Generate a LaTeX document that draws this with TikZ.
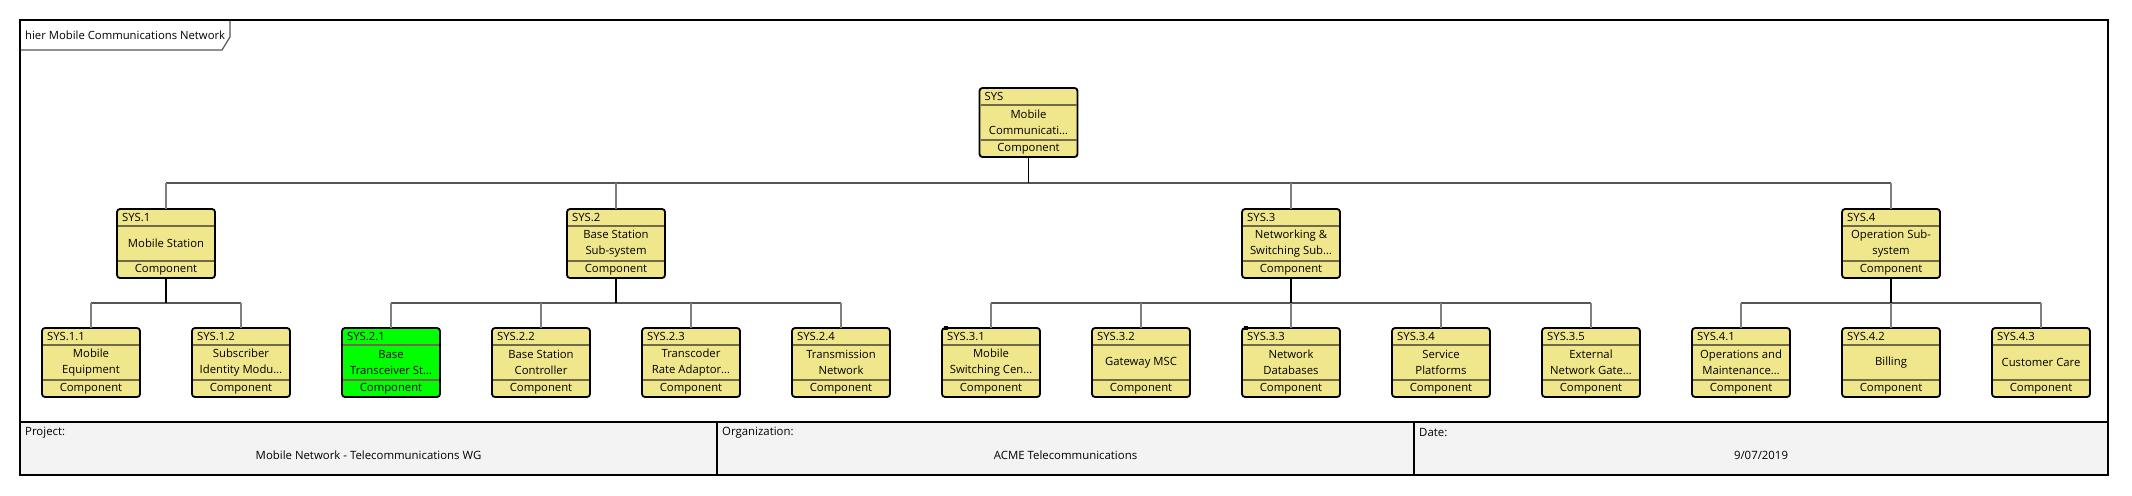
\documentclass[tikz,border=0pt]{standalone}
\usepackage{fontspec}
\setmainfont{Open Sans}
\definecolor{khaki}{HTML}{F0E68C}
\definecolor{sepc}{RGB}{112,106,72}
\definecolor{busc}{RGB}{85,85,85}
\definecolor{childc}{RGB}{128,128,128}
\definecolor{footc}{HTML}{F3F3F3}
\tikzset{
  comp/.style={draw=black, line width=1.8pt, rounded corners=3pt, minimum width=98pt, minimum height=69pt, inner sep=0pt, outer sep=0pt},
  sepl/.style={draw=sepc, line width=1.7pt, shorten <=1pt, shorten >=1pt},
  txt/.style={font=\fontsize{11.3}{16}\selectfont, inner sep=0pt, text=black},
  ftxt/.style={font=\fontsize{11.4}{14}\selectfont, inner sep=0pt, text=black},
  ttxt/.style={font=\fontsize{11.3}{14}\selectfont, inner sep=0pt, text=black},
  parentline/.style={draw=black, line width=1.6pt},
  busline/.style={draw=busc, line width=1.6pt},
  childline/.style={draw=childc, line width=1.6pt},
}
\newcommand\compbox[6]{%
  \node[comp, fill=#6] (#1) at (#2,#3) {};
  \draw[sepl] ([yshift=-17pt]#1.north west) -- ([yshift=-17pt]#1.north east);
  \draw[sepl] ([yshift=17pt]#1.south west) -- ([yshift=17pt]#1.south east);
  \node[txt, anchor=west] at ([xshift=5pt,yshift=-8.5pt]#1.north west) {#4};
  \node[txt, align=center] at (#1.center) {#5};
  \node[txt] at ([yshift=8.2pt]#1.south) {Component};
}
\newcommand\cornermark[1]{%
  \fill[black] ([xshift=1.5pt,yshift=-1.5pt]#1.north west) rectangle ++(4pt,4pt);
}
\begin{document}
\begin{tikzpicture}[x=1pt, y=-1pt]
\useasboundingbox (0,0) rectangle (2132,495);
% frame
\draw[line width=2pt, fill=white] (20,20) rectangle (2108,475);
% title tab
\node[ttxt, anchor=west] (title) at (25,35) {hier Mobile Communications Network};
\draw[draw=busc, line width=1.2pt] (21,50) -- (222,50) -- (230,37) -- (230,21);
% footer
\draw[line width=2pt, fill=footc] (20,422) rectangle (2108,475);
\draw[line width=1.4pt] (717,422) -- (717,475);
\draw[line width=1.4pt] (1414,422) -- (1414,475);
\node[ftxt, anchor=west] (projl) at (25,433) {Project:};
\node[ftxt] (projv) at (368.5,455) {Mobile Network - Telecommunications WG};
\node[ftxt, anchor=west] (orgl) at (722,433) {Organization:};
\node[ftxt] (orgv) at (1065.5,455) {ACME Telecommunications};
\node[ftxt, anchor=west] (datel) at (1419,433) {Date:};
\node[ftxt] (datev) at (1761,455) {9/07/2019};
% bus coordinates
\coordinate (b0) at (0,183);
\coordinate (b1) at (0,303);
% nodes
\compbox{sys}{1028.5}{122.5}{SYS}{Mobile\\Communicati…}{khaki}
\compbox{s1}{166}{243.5}{SYS.1}{Mobile Station}{khaki}
\compbox{s2}{616}{243.5}{SYS.2}{Base Station\\Sub-system}{khaki}
\compbox{s3}{1291}{243.5}{SYS.3}{Networking \&\\Switching Sub…}{khaki}
\compbox{s4}{1891}{243.5}{SYS.4}{Operation Sub-\\system}{khaki}
\compbox{s11}{91}{362.5}{SYS.1.1}{Mobile\\Equipment}{khaki}
\compbox{s12}{241}{362.5}{SYS.1.2}{Subscriber\\Identity Modu…}{khaki}
\compbox{s21}{391}{362.5}{SYS.2.1}{Base\\Transceiver St…}{green}
\compbox{s22}{541}{362.5}{SYS.2.2}{Base Station\\Controller}{khaki}
\compbox{s23}{691}{362.5}{SYS.2.3}{Transcoder\\Rate Adaptor…}{khaki}
\compbox{s24}{841}{362.5}{SYS.2.4}{Transmission\\Network}{khaki}
\compbox{s31}{991}{362.5}{SYS.3.1}{Mobile\\Switching Cen…}{khaki}
\compbox{s32}{1141}{362.5}{SYS.3.2}{Gateway MSC}{khaki}
\compbox{s33}{1291}{362.5}{SYS.3.3}{Network\\Databases}{khaki}
\compbox{s34}{1441}{362.5}{SYS.3.4}{Service\\Platforms}{khaki}
\compbox{s35}{1591}{362.5}{SYS.3.5}{External\\Network Gate…}{khaki}
\compbox{s41}{1741}{362.5}{SYS.4.1}{Operations and\\Maintenance…}{khaki}
\compbox{s42}{1891}{362.5}{SYS.4.2}{Billing}{khaki}
\compbox{s43}{2041}{362.5}{SYS.4.3}{Customer Care}{khaki}
\cornermark{s31}
\cornermark{s33}
% connectors level 0
\draw[busline] (s1.north |- b0) -- (s4.north |- b0);
\foreach \c in {s1,s2,s3,s4} { \draw[childline] (\c.north) -- (\c.north |- b0); }
\draw[draw=black, line width=1.2pt] (sys.south) -- (sys.south |- b0);
% connectors level 1
\draw[busline] (s11.north |- b1) -- (s12.north |- b1);
\draw[busline] (s21.north |- b1) -- (s24.north |- b1);
\draw[busline] (s31.north |- b1) -- (s35.north |- b1);
\draw[busline] (s41.north |- b1) -- (s43.north |- b1);
\foreach \c in {s11,s12,s21,s22,s23,s24,s31,s32,s33,s34,s35,s41,s42,s43} { \draw[childline] (\c.north) -- (\c.north |- b1); }
\foreach \p in {s1,s2,s3,s4} { \draw[parentline] (\p.south) -- (\p.south |- b1); }
\end{tikzpicture}
\end{document}
